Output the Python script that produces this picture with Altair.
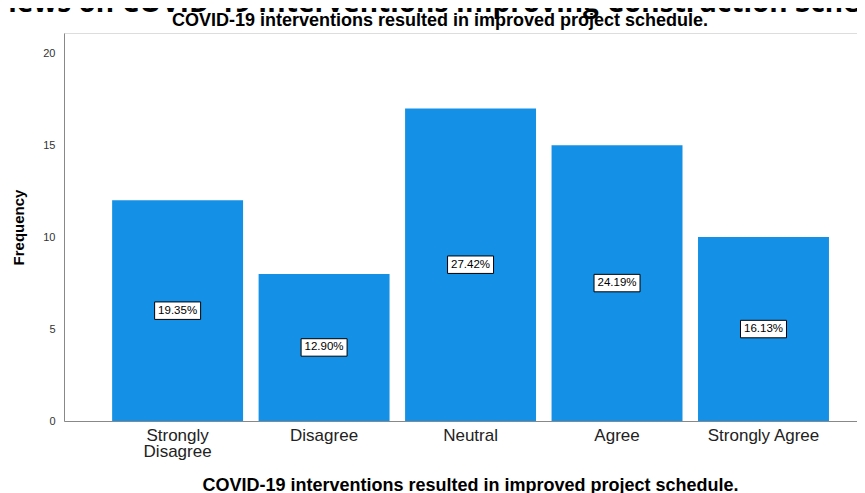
import altair as alt
import pandas as pd

categories = ["Strongly Disagree", "Disagree", "Neutral", "Agree", "Strongly Agree"]
frequencies = [12, 8, 17, 15, 10]
percent_labels = ["19.35%", "12.90%", "27.42%", "24.19%", "16.13%"]
y_ticks = [0, 5, 10, 15, 20]

main_title = "Views on COVID-19 Interventions Improving Construction Schedule"
sub_title = "COVID-19 interventions resulted in improved project schedule."
x_title = "COVID-19 interventions resulted in improved project schedule."

df = pd.DataFrame({
    "category": categories,
    "freq": frequencies,
    "half": [f / 2 for f in frequencies],
    "pct": percent_labels,
})

W, H = 793, 388
BAR = "#1491E6"
FONT = "Liberation Sans"

xscale = alt.Scale(domain=categories, paddingInner=0.106, paddingOuter=0.26, align=0.632)
yscale = alt.Scale(domain=[0, 21.1], nice=False)

base = alt.Chart(df)

bars = base.mark_bar(color=BAR).encode(
    x=alt.X("category:N", scale=xscale, sort=categories,
            axis=alt.Axis(title=x_title, labelAngle=0, ticks=False, labelPadding=6,
                          labelFontSize=17, labelFont=FONT, labelColor="#222222",
                          labelLineHeight=16,
                          labelExpr="datum.label == 'Strongly Disagree' ? ['Strongly', 'Disagree'] : datum.label",
                          titleFont=FONT, titleFontSize=18, titleFontWeight="bold",
                          titleColor="#000000", titleX=406, titleY=69,
                          titleBaseline="alphabetic",
                          domainColor="#888888", domainWidth=1)),
    y=alt.Y("freq:Q", scale=yscale,
            axis=alt.Axis(title="Frequency", values=y_ticks, ticks=False, grid=False,
                          labelPadding=9, labelFontSize=11, labelFont=FONT,
                          labelColor="#333333",
                          titleFont=FONT, titleFontSize=15, titleFontWeight="bold",
                          titleColor="#000000", titlePadding=16,
                          domainColor="#888888", domainWidth=1)),
)

boxes = base.mark_point(
    shape="M-1,-0.38H1V0.38H-1Z", size=2116, filled=True, fill="white",
    stroke="black", strokeWidth=1, opacity=1,
).encode(
    x=alt.X("category:N", scale=xscale, sort=categories),
    y=alt.Y("half:Q", scale=yscale),
)

labels = base.mark_text(font=FONT, fontSize=11.5, color="black", baseline="middle").encode(
    x=alt.X("category:N", scale=xscale, sort=categories),
    y=alt.Y("half:Q", scale=yscale),
    text="pct:N",
)

title_df = pd.DataFrame({"t": [main_title]})
big_title = alt.Chart(title_df).mark_text(
    font="Open Sans", fontSize=28, fontWeight="bold", align="left",
    baseline="alphabetic", color="black",
).encode(x=alt.value(-74), y=alt.value(-21), text="t:N")

sub_df = pd.DataFrame({"t": [sub_title]})
subtitle = alt.Chart(sub_df).mark_text(
    font=FONT, fontSize=18, fontWeight="bold", align="center",
    baseline="alphabetic", color="black",
).encode(x=alt.value(376), y=alt.value(-7), text="t:N")

chart = alt.layer(bars, boxes, labels, big_title, subtitle).properties(
    width=W, height=H,
    autosize=alt.AutoSizeParams(type="none"),
    padding={"left": 56, "top": 25, "right": 0, "bottom": 72},
).configure_view(stroke=None).configure(background="white")

chart.save("out.html", embed_options={"renderer": "svg", "actions": False})
